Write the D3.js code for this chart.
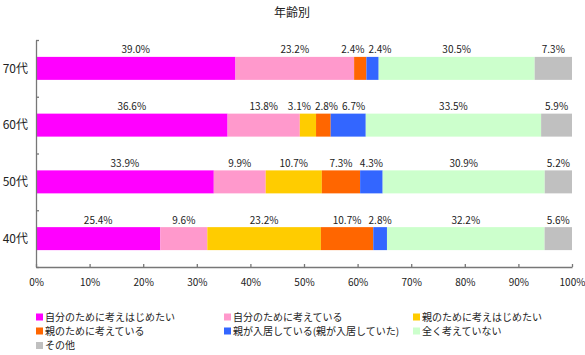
<!DOCTYPE html>
<html>
<head>
<meta charset="utf-8">
<script src="https://cdn.jsdelivr.net/npm/d3@7"></script>
<style>
  html, body { margin: 0; padding: 0; background: #fff; }
  svg { display: block; font-family: "Noto Sans CJK JP", "Noto Sans", sans-serif; }
</style>
</head>
<body>
<svg id="chart" width="585" height="355"></svg>
<script>
const title = "年齢別";
const categories = ["70代", "60代", "50代", "40代"];
const seriesNames = [
  "自分のために考えはじめたい",
  "自分のために考えている",
  "親のために考えはじめたい",
  "親のために考えている",
  "親が入居している(親が入居していた)",
  "全く考えていない",
  "その他"
];
const seriesColors = ["#FF00FF", "#FF99CC", "#FFCC00", "#FF6600", "#3366FF", "#CCFFCC", "#C0C0C0"];
// values per category, in series order
const v70 = [39.0, 23.2, 0, 2.4, 2.4, 30.5, 7.3];
const v60 = [36.6, 13.8, 3.1, 2.8, 6.7, 33.5, 5.9];
const v50 = [33.9, 9.9, 10.7, 7.3, 4.3, 30.9, 5.2];
const v40 = [25.4, 9.6, 23.2, 10.7, 2.8, 32.2, 5.6];
const valuesByCat = [v70, v60, v50, v40];
const xTicks = [0, 0.1, 0.2, 0.3, 0.4, 0.5, 0.6, 0.7, 0.8, 0.9, 1.0];

(function () {
const svg = d3.select("#chart");
const pLeft = 36, pRight = 572, pTop = 40, pBottom = 267;

const rows = categories.map((c, i) => {
  const o = { cat: c };
  seriesNames.forEach((s, j) => o[s] = valuesByCat[i][j]);
  return o;
});

const stack = d3.stack().keys(seriesNames).offset(d3.stackOffsetExpand);
const layers = stack(rows);

const x = d3.scaleLinear().domain([0, 1]).range([pLeft, pRight]);
const y = d3.scaleBand().domain(categories).range([pTop, pBottom]).paddingInner(0.595).paddingOuter(0.2975);
const yEdge = d3.scaleLinear().domain([0, categories.length]).range([pTop, pBottom]);

// title
svg.append("text").attr("x", 292).attr("y", 17).attr("text-anchor", "middle")
  .attr("font-size", 12).attr("fill", "#222").text(title);

// bars
const g = svg.append("g");
layers.forEach((layer, j) => {
  g.selectAll(null).data(layer).enter().append("rect")
    .attr("x", d => x(d[0]))
    .attr("y", d => y(d.data.cat))
    .attr("width", d => Math.max(0, x(d[1]) - x(d[0])))
    .attr("height", y.bandwidth())
    .attr("fill", seriesColors[j]);
});

// value labels with simple overlap avoidance
const gap = 4;
categories.forEach((cat, i) => {
  const items = [];
  layers.forEach((layer, j) => {
    const d = layer[i];
    const val = valuesByCat[i][j];
    if (!val) return;
    const t = svg.append("text")
      .attr("font-size", 10).attr("fill", "#222")
      .attr("text-anchor", "middle")
      .attr("y", y(cat) - 3.5)
      .text(val.toFixed(1) + "%");
    items.push({ t, cx: (x(d[0]) + x(d[1])) / 2, w: t.node().getComputedTextLength() });
  });
  const clusters = [];
  const pos = cl => {
    const tw = d3.sum(cl.items, e => e.w) + gap * (cl.items.length - 1);
    const m = d3.mean(cl.items, e => e.cx);
    return { l: m - tw / 2, r: m + tw / 2 };
  };
  items.forEach(it => {
    clusters.push({ items: [it] });
    while (clusters.length > 1) {
      const a = clusters[clusters.length - 2], b = clusters[clusters.length - 1];
      const pa = pos(a), pb = pos(b);
      if (pa.r + gap > pb.l) {
        a.items = a.items.concat(b.items);
        clusters.pop();
      } else break;
    }
  });
  clusters.forEach(cl => {
    let cur = pos(cl).l;
    cl.items.forEach(e => {
      e.t.attr("x", cur + e.w / 2);
      cur += e.w + gap;
    });
  });
});

// y axis (ticks at band edges, pointing inward)
const yAxis = svg.append("g").attr("transform", `translate(${pLeft},0)`)
  .call(d3.axisRight(yEdge).tickValues(d3.range(categories.length + 1)).tickFormat("").tickSize(3).tickSizeOuter(0));
yAxis.selectAll("path,line").attr("stroke", "#777").attr("stroke-width", 1.3);

// category labels
svg.append("g").selectAll("text").data(categories).enter().append("text")
  .attr("x", 28).attr("y", d => y(d) + y.bandwidth() / 2)
  .attr("dy", "0.35em").attr("text-anchor", "end")
  .attr("font-size", 12).attr("fill", "#222").text(d => d);

// x axis (ticks pointing up)
const xAxis = svg.append("g").attr("transform", `translate(0,${pBottom})`)
  .call(d3.axisBottom(x).tickValues(xTicks).tickFormat(d3.format(".0%")).tickSize(-3).tickSizeOuter(0).tickPadding(12));
xAxis.selectAll("path,line").attr("stroke", "#777").attr("stroke-width", 1.3);
xAxis.selectAll("text").attr("font-size", 10).attr("fill", "#222")
  .attr("font-family", "\"Noto Sans CJK JP\", \"Noto Sans\", sans-serif");

// legend
const legCols = [36, 224, 413];
const legRows = [317, 331, 345.5];
const lg = svg.append("g");
seriesNames.forEach((s, j) => {
  const cx = legCols[j % 3], cy = legRows[Math.floor(j / 3)];
  lg.append("rect").attr("x", cx).attr("y", cy - 3.5).attr("width", 7).attr("height", 7).attr("fill", seriesColors[j]);
  lg.append("text").attr("x", cx + 9).attr("y", cy).attr("dy", "0.36em")
    .attr("font-size", 10).attr("fill", "#222").text(s);
});
})();
</script>
</body>
</html>
